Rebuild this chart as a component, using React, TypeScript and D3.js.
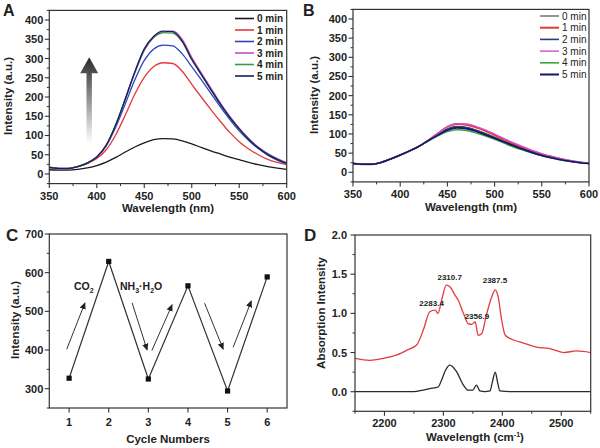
import React from 'react';
import * as d3 from 'd3';

const FONT = "'Liberation Sans', Arial, Helvetica, sans-serif";

// ---------- Panel A / B data ----------
const wavelengths = [350, 360, 370, 380, 390, 400, 410, 420, 430, 440, 450, 460, 470, 480, 490, 500, 510, 520, 530, 540, 550, 560, 570, 580, 590, 600];
const legendLabels = ['0 min', '1 min', '2 min', '3 min', '4 min', '5 min'];
const colorsA = ['#1a1a1a', '#e5393b', '#2b45c0', '#c648c8', '#3a9c45', '#1c1c5e'];
const colorsB = ['#2a2a2a', '#e5393b', '#2c3a8a', '#d050c8', '#3aa040', '#14146e'];

const a0 = [11, 10, 10, 12, 16, 22, 31, 43, 57, 70, 81, 89, 92, 91, 86, 78, 69, 60, 52, 44, 37, 30, 24, 19, 15, 12];
const a1 = [17, 14, 14, 19, 27, 40, 63, 102, 153, 207, 251, 279, 289, 287, 267, 233, 200, 168, 137, 108, 84, 65, 50, 38, 30, 24];
const a2 = [18, 15, 15, 20, 29, 44, 73, 122, 182, 244, 295, 325, 335, 333, 312, 279, 245, 210, 175, 142, 112, 87, 66, 49, 36, 26];
const a3 = [17, 14, 14, 19, 28, 44, 75, 127, 193, 262, 321, 355, 368, 371, 350, 303, 263, 224, 185, 150, 119, 92, 70, 53, 40, 29];
const a4 = [16, 14, 14, 19, 28, 44, 75, 128, 195, 264, 323, 355, 367, 366, 343, 297, 258, 219, 181, 147, 116, 90, 68, 51, 38, 27];
const a5 = [17, 14, 14, 19, 28, 44, 75, 128, 195, 265, 325, 358, 371, 370, 345, 298, 259, 220, 182, 147, 117, 90, 68, 51, 38, 28];
const seriesA = [a0, a1, a2, a3, a4, a5];

const b0 = [23, 21, 21, 26, 35, 45, 56, 68, 83, 99, 114, 120, 118, 111, 102, 92, 81, 71, 62, 54, 46, 40, 34, 29, 26, 24];
const b1 = [23, 21, 21, 26, 35, 45, 56, 68, 84, 102, 119, 126, 124, 117, 108, 97, 85, 74, 64, 55, 47, 41, 35, 30, 26, 24];
const b2 = [23, 21, 21, 26, 35, 45, 56, 68, 83, 98, 112, 118, 116, 109, 100, 90, 80, 70, 61, 53, 45, 39, 34, 29, 26, 23];
const b3 = [23, 21, 21, 26, 35, 45, 56, 68, 84, 102, 119, 127, 126, 120, 111, 100, 88, 77, 67, 57, 49, 42, 36, 31, 27, 24];
const b4 = [23, 21, 21, 26, 35, 45, 56, 68, 82, 95, 106, 111, 109, 103, 95, 86, 76, 66, 58, 50, 43, 37, 32, 28, 25, 23];
const b5 = [23, 21, 21, 26, 35, 45, 56, 68, 83, 97, 110, 116, 114, 107, 98, 89, 79, 69, 60, 51, 44, 38, 33, 29, 25, 23];
const seriesB = [b0, b1, b2, b3, b4, b5];

// ---------- Panel C data ----------
const cycles = [1, 2, 3, 4, 5, 6];
const cycleIntensity = [327, 629, 325, 566, 294, 589];
// arrows: [x1, y1, x2, y2] in data units
const arrowsC = [
  [0.94, 402, 1.40, 522],
  [2.59, 522, 2.97, 400],
  [3.09, 399, 3.60, 517],
  [4.42, 521, 4.89, 402],
  [5.14, 407, 5.60, 527],
];

// ---------- Panel D data ----------
const wnRed = [2150, 2175, 2198, 2221, 2238, 2255, 2266, 2277, 2286, 2291, 2297, 2305, 2311, 2320, 2325, 2334, 2342, 2348, 2354, 2359, 2365, 2373, 2382, 2388, 2393, 2399, 2405, 2419, 2436, 2458, 2481, 2504, 2526, 2550];
const absRed = [0.425, 0.40, 0.425, 0.47, 0.53, 0.60, 0.79, 1.02, 1.04, 1.0, 1.17, 1.36, 1.34, 1.23, 1.17, 1.0, 0.87, 0.86, 0.89, 0.72, 0.74, 0.98, 1.21, 1.30, 1.21, 0.91, 0.72, 0.66, 0.62, 0.57, 0.55, 0.50, 0.52, 0.50];
const wnBlack = [2150, 2250, 2265, 2277, 2291, 2297, 2304, 2311, 2322, 2334, 2342, 2350, 2356, 2362, 2370, 2379, 2383, 2388, 2392, 2396, 2420, 2550];
const absBlack = [0, 0, 0.02, 0.04, 0.06, 0.15, 0.28, 0.34, 0.26, 0.085, 0.02, 0.02, 0.085, 0.01, 0, 0.01, 0.12, 0.25, 0.12, 0.01, 0, 0];
const peakLabels = ['2283.4', '2310.7', '2356.9', '2387.5'];
const peakPos = [[2280, 1.1], [2310.7, 1.42], [2356.9, 0.93], [2387.5, 1.39]];

const dark = '#333';

type AxesProps = {
  xs: d3.ScaleLinear<number, number>;
  ys: d3.ScaleLinear<number, number>;
  xMajor: number[];
  xMinor: number[];
  yMajor: number[];
  yMinor: number[];
  xFmt: (v: number) => string;
  yFmt: (v: number) => string;
  xLabOff: number;
  yLabOff: number;
};

function Axes({ xs, ys, xMajor, xMinor, yMajor, yMinor, xFmt, yFmt, xLabOff, yLabOff }: AxesProps) {
  const [x0, x1] = xs.range();
  const [y0, y1] = ys.range();
  return (
    <g fontFamily={FONT} fontWeight="bold" fontSize={11} fill="#222">
      <rect x={x0} y={y1} width={x1 - x0} height={y0 - y1} fill="none" stroke={dark} strokeWidth={1.2} />
      {xMinor.map((t) => (
        <line key={'xm' + t} x1={xs(t)} x2={xs(t)} y1={y0} y2={y0 + 2.5} stroke={dark} strokeWidth={1} />
      ))}
      {xMajor.map((t) => (
        <g key={'xM' + t}>
          <line x1={xs(t)} x2={xs(t)} y1={y0} y2={y0 + 4.5} stroke={dark} strokeWidth={1.1} />
          <text x={xs(t)} y={y0 + xLabOff} textAnchor="middle">{xFmt(t)}</text>
        </g>
      ))}
      {yMinor.map((t) => (
        <line key={'ym' + t} x1={x0} x2={x0 - 2.5} y1={ys(t)} y2={ys(t)} stroke={dark} strokeWidth={1} />
      ))}
      {yMajor.map((t) => (
        <g key={'yM' + t}>
          <line x1={x0} x2={x0 - 4.5} y1={ys(t)} y2={ys(t)} stroke={dark} strokeWidth={1.1} />
          <text x={x0 - yLabOff} y={ys(t) + 4} textAnchor="end">{yFmt(t)}</text>
        </g>
      ))}
    </g>
  );
}

function rangeStep(a: number, b: number, s: number) {
  return d3.range(a, b + s / 2, s);
}

function Spectra({ series, colors, xs, ys, widths }: any) {
  const line = d3
    .line<number>()
    .x((_, i) => xs(wavelengths[i]))
    .y((d) => ys(d))
    .curve(d3.curveMonotoneX);
  return (
    <g>
      {series.map((s: number[], i: number) => (
        <path key={i} d={line(s) || ''} fill="none" stroke={colors[i]} strokeWidth={widths[i]} />
      ))}
    </g>
  );
}

function Legend({ x, y, dy, colors, widths, weight }: any) {
  return (
    <g fontFamily={FONT} fontSize={10} fontWeight={weight} fill="#222">
      {legendLabels.map((l, i) => (
        <g key={l}>
          <line x1={x} x2={x + 19} y1={y + i * dy} y2={y + i * dy} stroke={colors[i]} strokeWidth={widths[i]} />
          <text x={x + 22} y={y + i * dy + 3.5}>{l}</text>
        </g>
      ))}
    </g>
  );
}

function PanelA() {
  const xs = d3.scaleLinear().domain([350, 600]).range([49.3, 286.7]);
  const ys = d3.scaleLinear().domain([-25, 425]).range([183.6, 10.4]);
  const ax = xs(392);
  const yb = ys(80);
  const yt = ys(303);
  const arrowPts = [
    [ax, yt],
    [ax + 9, yt + 16],
    [ax + 2.7, yt + 16],
    [ax + 2.7, yb],
    [ax - 2.7, yb],
    [ax - 2.7, yt + 16],
    [ax - 9, yt + 16],
  ]
    .map((p) => p.join(','))
    .join(' ');
  return (
    <g>
      <defs>
        <linearGradient id="arrowGrad" gradientUnits="userSpaceOnUse" x1={0} y1={yb} x2={0} y2={yt}>
          <stop offset="0" stopColor="#ffffff" />
          <stop offset="0.55" stopColor="#8a8a8a" />
          <stop offset="1" stopColor="#2a2a2a" />
        </linearGradient>
      </defs>
      <Spectra series={seriesA} colors={colorsA} xs={xs} ys={ys} widths={[1.3, 1.3, 1.3, 1.3, 1.3, 1.3]} />
      <polygon points={arrowPts} fill="url(#arrowGrad)" />
      <Axes
        xs={xs}
        ys={ys}
        xMajor={rangeStep(350, 600, 50)}
        xMinor={rangeStep(375, 575, 50)}
        yMajor={rangeStep(0, 400, 50)}
        yMinor={rangeStep(-25, 425, 50)}
        xFmt={(v) => String(v)}
        yFmt={(v) => String(v)}
        xLabOff={16.5}
        yLabOff={6}
      />
      <Legend x={235} y={18.5} dy={11.5} colors={colorsA} widths={[1.6, 1.6, 1.6, 1.6, 1.6, 1.6]} weight="bold" />
      <g fontFamily={FONT} fontWeight="bold" fill="#222">
        <text x={3} y={15.5} fontSize={16}>A</text>
        <text x={168} y={212} fontSize={11.5} textAnchor="middle">Wavelength (nm)</text>
        <text transform="translate(11.5,96) rotate(-90)" fontSize={11.5} textAnchor="middle">Intensity (a.u.)</text>
      </g>
    </g>
  );
}

function PanelB() {
  const xs = d3.scaleLinear().domain([350, 600]).range([353, 589]);
  const ys = d3.scaleLinear().domain([-25, 425]).range([181.9, 9.4]);
  return (
    <g>
      <Spectra series={seriesB} colors={colorsB} xs={xs} ys={ys} widths={[1, 1.8, 1.4, 1.3, 1.4, 1.6]} />
      <Axes
        xs={xs}
        ys={ys}
        xMajor={rangeStep(350, 600, 50)}
        xMinor={rangeStep(375, 575, 50)}
        yMajor={rangeStep(0, 400, 50)}
        yMinor={rangeStep(-25, 425, 50)}
        xFmt={(v) => String(v)}
        yFmt={(v) => String(v)}
        xLabOff={16.5}
        yLabOff={6}
      />
      <Legend x={540} y={16} dy={11.7} colors={colorsB} widths={[1, 2, 1.6, 1.4, 1.6, 2]} weight="normal" />
      <g fontFamily={FONT} fontWeight="bold" fill="#222">
        <text x={303} y={16} fontSize={16}>B</text>
        <text x={471} y={211} fontSize={11.5} textAnchor="middle">Wavelength (nm)</text>
        <text transform="translate(317.5,95) rotate(-90)" fontSize={11.5} textAnchor="middle">Intensity (a.u.)</text>
      </g>
    </g>
  );
}

function PanelC() {
  const xs = d3.scaleLinear().domain([0.5, 6.5]).range([49.3, 287]);
  const ys = d3.scaleLinear().domain([250, 700]).range([408, 234]);
  const line = d3
    .line<number>()
    .x((_, i) => xs(cycles[i]))
    .y((d) => ys(d));
  return (
    <g>
      <defs>
        <marker id="headC" viewBox="0 0 10 10" refX="9" refY="5" markerWidth="7" markerHeight="7" orient="auto" markerUnits="userSpaceOnUse">
          <path d="M0,0.5 L10,5 L0,9.5 z" fill="#222" />
        </marker>
      </defs>
      <path d={line(cycleIntensity) || ''} fill="none" stroke="#333" strokeWidth={1.2} />
      {cycleIntensity.map((v, i) => (
        <rect key={i} x={xs(cycles[i]) - 2.6} y={ys(v) - 2.6} width={5.2} height={5.2} fill="#111" />
      ))}
      {arrowsC.map((a, i) => (
        <line key={i} x1={xs(a[0])} y1={ys(a[1])} x2={xs(a[2])} y2={ys(a[3])} stroke="#333" strokeWidth={1} markerEnd="url(#headC)" />
      ))}
      <Axes
        xs={xs}
        ys={ys}
        xMajor={cycles}
        xMinor={[]}
        yMajor={rangeStep(300, 700, 100)}
        yMinor={rangeStep(250, 650, 100)}
        xFmt={(v) => String(v)}
        yFmt={(v) => String(v)}
        xLabOff={17.5}
        yLabOff={6}
      />
      <g fontFamily={FONT} fontWeight="bold" fill="#222">
        <text x={6} y={241} fontSize={17}>C</text>
        <text x={168} y={443} fontSize={11.5} textAnchor="middle">Cycle Numbers</text>
        <text transform="translate(18.5,320) rotate(-90)" fontSize={11.5} textAnchor="middle">Intensity (a.u.)</text>
        <text x={74} y={290} fontSize={10.5}>
          CO<tspan dy={3} fontSize={7}>2</tspan>
        </text>
        <text x={120} y={290} fontSize={10.5}>
          NH<tspan dy={3} fontSize={7}>3</tspan>
          <tspan dy={-3}>·H</tspan>
          <tspan dy={3} fontSize={7}>2</tspan>
          <tspan dy={-3}>O</tspan>
        </text>
      </g>
    </g>
  );
}

function PanelD() {
  const xs = d3.scaleLinear().domain([2150, 2550]).range([355, 590.7]);
  const ys = d3.scaleLinear().domain([-0.25, 2.0]).range([411.3, 235]);
  const lineR = d3
    .line<number>()
    .x((_, i) => xs(wnRed[i]))
    .y((d) => ys(d))
    .curve(d3.curveMonotoneX);
  const lineB = d3
    .line<number>()
    .x((_, i) => xs(wnBlack[i]))
    .y((d) => ys(d))
    .curve(d3.curveMonotoneX);
  return (
    <g>
      <path d={lineR(absRed) || ''} fill="none" stroke="#e23b3b" strokeWidth={1.3} />
      <path d={lineB(absBlack) || ''} fill="none" stroke="#2a2a2a" strokeWidth={1.3} />
      <Axes
        xs={xs}
        ys={ys}
        xMajor={rangeStep(2200, 2500, 100)}
        xMinor={rangeStep(2150, 2550, 100)}
        yMajor={rangeStep(0, 2, 0.5)}
        yMinor={rangeStep(-0.25, 1.75, 0.5)}
        xFmt={(v) => String(v)}
        yFmt={(v) => v.toFixed(1)}
        xLabOff={15.7}
        yLabOff={8}
      />
      <g fontFamily={FONT} fontWeight="bold" fill="#222">
        {peakLabels.map((l, i) => (
          <text key={l} x={xs(peakPos[i][0])} y={ys(peakPos[i][1])} fontSize={8} textAnchor="middle">{l}</text>
        ))}
        <text x={304} y={241} fontSize={17}>D</text>
        <text x={475} y={441} fontSize={11.5} textAnchor="middle">
          Wavelength (cm<tspan dy={-4} fontSize={7}>-1</tspan>
          <tspan dy={4}>)</tspan>
        </text>
        <text transform="translate(325,313) rotate(-90)" fontSize={11.5} textAnchor="middle">Absorption Intensity</text>
      </g>
    </g>
  );
}

export default function App() {
  return (
    <svg
      width={600}
      height={448}
      viewBox="0 0 600 448"
      style={{ position: 'absolute', left: 0, top: 0, background: '#fff' }}
    >
      <rect width={600} height={448} fill="#fff" />
      <PanelA />
      <PanelB />
      <PanelC />
      <PanelD />
    </svg>
  );
}
